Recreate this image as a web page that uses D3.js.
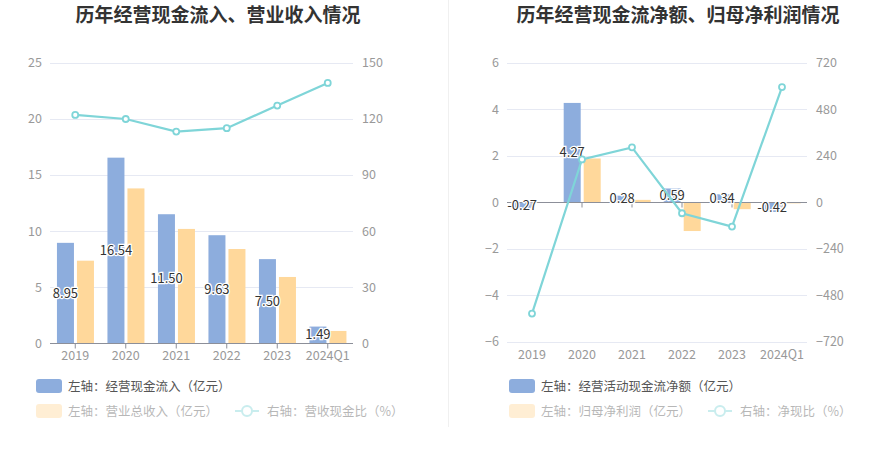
<!DOCTYPE html>
<html><head><meta charset="utf-8">
<script src="https://cdn.jsdelivr.net/npm/d3@7"></script>
<style>
body{margin:0;background:#fff;font-family:"Noto Sans CJK SC","Noto Sans",sans-serif;}
svg{display:block;}
</style></head>
<body><svg id="c" width="893" height="458"></svg>
<script>
const categories = ["2019","2020","2021","2022","2023","2024Q1"];
// left chart
const cashInflow = [8.95,16.54,11.50,9.63,7.50,1.49];
const revenue = [7.36,13.8,10.19,8.4,5.91,1.1];
const cashRevenueRatio = [122.1,119.9,113.2,115.0,127.1,139.2];
const leftTicksL = [0,5,10,15,20,25];
const leftTicksR = [0,30,60,90,120,150];
// right chart
const netCashFlow = [-0.27,4.27,0.28,0.59,0.34,-0.42];
const netProfit = [-0.03,1.88,0.10,-1.24,-0.30,-0.05];
const netCashRatio = [-575,221,283,-57,-126,594];
const rightTicksL = [-6,-4,-2,0,2,4,6];
const rightTicksR = [-720,-480,-240,0,240,480,720];

const C_BLUE="#8daddd", C_ORANGE="#ffd89b", C_LINE="#7fd5d8";
const svg = d3.select("#c");
const font = '"Noto Sans CJK SC","Noto Sans",sans-serif';

// divider
svg.append("line").attr("x1",448.5).attr("x2",448.5).attr("y1",0).attr("y2",427)
  .attr("stroke","#f0f0f0");

function chart(o){
  const g = svg.append("g");
  g.append("text").attr("x",o.titleX).attr("y",22).attr("text-anchor","middle")
    .attr("font-size",19).attr("font-weight","bold").attr("fill","#333").attr("font-family",font).text(o.title);
  const x = d3.scaleBand().domain(categories).range([o.x0,o.x1]);
  const yL = d3.scaleLinear().domain(d3.extent(o.ticksL)).range([o.yb,o.yt]);
  const yR = d3.scaleLinear().domain(d3.extent(o.ticksR)).range([o.yb,o.yt]);
  // grid
  g.append("g").selectAll("line").data(o.ticksL).join("line")
    .attr("x1",o.x0).attr("x2",o.x1).attr("y1",d=>Math.round(yL(d))+0.5).attr("y2",d=>Math.round(yL(d))+0.5)
    .attr("stroke","#e6e9f3");
  // left axis labels
  const axL = d3.axisLeft(yL).tickValues(o.ticksL).tickSize(0).tickPadding(8);
  const gl = g.append("g").attr("transform",`translate(${o.x0},0)`).call(axL);
  gl.select(".domain").remove();
  gl.selectAll("text").attr("font-size",12.5).attr("fill","#999").attr("font-family",font);
  const axR = d3.axisRight(yR).tickValues(o.ticksR).tickSize(0).tickPadding(9);
  const gr = g.append("g").attr("transform",`translate(${o.x1},0)`).call(axR);
  gr.select(".domain").remove();
  gr.selectAll("text").attr("font-size",12.5).attr("fill","#999").attr("font-family",font);
  const bw=17;
  const cx = d=>x(d)+x.bandwidth()/2;
  // bars
  const barRect=(data,off,col)=>g.append("g").selectAll("rect").data(data).join("rect")
    .attr("x",(d,i)=>cx(categories[i])+off).attr("width",bw)
    .attr("y",d=>Math.min(yL(d),yL(0))).attr("height",d=>Math.abs(yL(d)-yL(0)))
    .attr("fill",col);
  barRect(o.bars1,-bw-1.3,C_BLUE);
  barRect(o.bars2,1.7,C_ORANGE);
  // x axis at zero
  const y0 = Math.round(yL(0))+0.5;
  g.append("line").attr("x1",o.x0).attr("x2",o.x1).attr("y1",y0).attr("y2",y0).attr("stroke","#8c8f99").attr("stroke-width",1.2);
  g.append("g").selectAll("line").data(categories).join("line")
    .attr("x1",d=>cx(d)).attr("x2",d=>cx(d)).attr("y1",y0).attr("y2",y0+5).attr("stroke","#8c8f99");
  g.append("g").selectAll("text").data(categories).join("text")
    .attr("x",d=>cx(d)).attr("y",o.yb+17).attr("text-anchor","middle")
    .attr("font-size",12.5).attr("fill","#999").attr("font-family",font).text(d=>d);
  // labels on blue bars
  g.append("g").selectAll("text").data(o.bars1).join("text")
    .attr("x",(d,i)=>cx(categories[i])-bw/2-1.3).attr("y",d=>(yL(d)+yL(0))/2+4.5)
    .attr("text-anchor","middle").attr("font-size",13).attr("fill","#333").attr("font-family",font)
    .attr("stroke","#fff").attr("stroke-width",2.5).attr("paint-order","stroke")
    .text(d=>d.toFixed(2));
  // line
  const line = d3.line().x((d,i)=>cx(categories[i])).y(d=>yR(d));
  g.append("path").datum(o.line).attr("d",line).attr("fill","none").attr("stroke",C_LINE).attr("stroke-width",2.2);
  g.append("g").selectAll("circle").data(o.line).join("circle")
    .attr("cx",(d,i)=>cx(categories[i])).attr("cy",d=>yR(d)).attr("r",3)
    .attr("fill","#fff").attr("stroke",C_LINE).attr("stroke-width",1.8);
  // legend
  const lx=o.legX, fs=12.5;
  g.append("rect").attr("x",lx).attr("y",379).attr("width",26).attr("height",14).attr("rx",3).attr("fill",C_BLUE);
  g.append("text").attr("x",lx+32).attr("y",390.5).attr("font-size",fs).attr("fill","#555").attr("font-family",font).text(o.leg1);
  const r2 = g.append("g").attr("opacity",0.42);
  r2.append("rect").attr("x",lx).attr("y",404).attr("width",26).attr("height",14).attr("rx",3).attr("fill",C_ORANGE);
  const t2 = r2.append("text").attr("x",lx+32).attr("y",415.5).attr("font-size",fs).attr("fill","#555").attr("font-family",font).text(o.leg2);
  const w2 = t2.node().getComputedTextLength();
  const sx = lx+32+w2+17;
  r2.append("line").attr("x1",sx).attr("x2",sx+24).attr("y1",411).attr("y2",411).attr("stroke",C_LINE).attr("stroke-width",2);
  r2.append("circle").attr("cx",sx+12).attr("cy",411).attr("r",5).attr("fill","#fff").attr("stroke",C_LINE).attr("stroke-width",2);
  r2.append("text").attr("x",sx+32).attr("y",415.5).attr("font-size",fs).attr("fill","#555").attr("font-family",font).text(o.leg3);
}

chart({title:"历年经营现金流入、营业收入情况",titleX:218,x0:50,x1:353,yt:62.7,yb:343.3,
  ticksL:leftTicksL,ticksR:leftTicksR,bars1:cashInflow,bars2:revenue,line:cashRevenueRatio,
  legX:36,leg1:"左轴：经营现金流入（亿元）",leg2:"左轴：营业总收入（亿元）",leg3:"右轴：营收现金比（%）"});
chart({title:"历年经营现金流净额、归母净利润情况",titleX:678,x0:507,x1:807,yt:62.7,yb:341.7,
  ticksL:rightTicksL,ticksR:rightTicksR,bars1:netCashFlow,bars2:netProfit,line:netCashRatio,
  legX:509,leg1:"左轴：经营活动现金流净额（亿元）",leg2:"左轴：归母净利润（亿元）",leg3:"右轴：净现比（%）"});
</script></body></html>
